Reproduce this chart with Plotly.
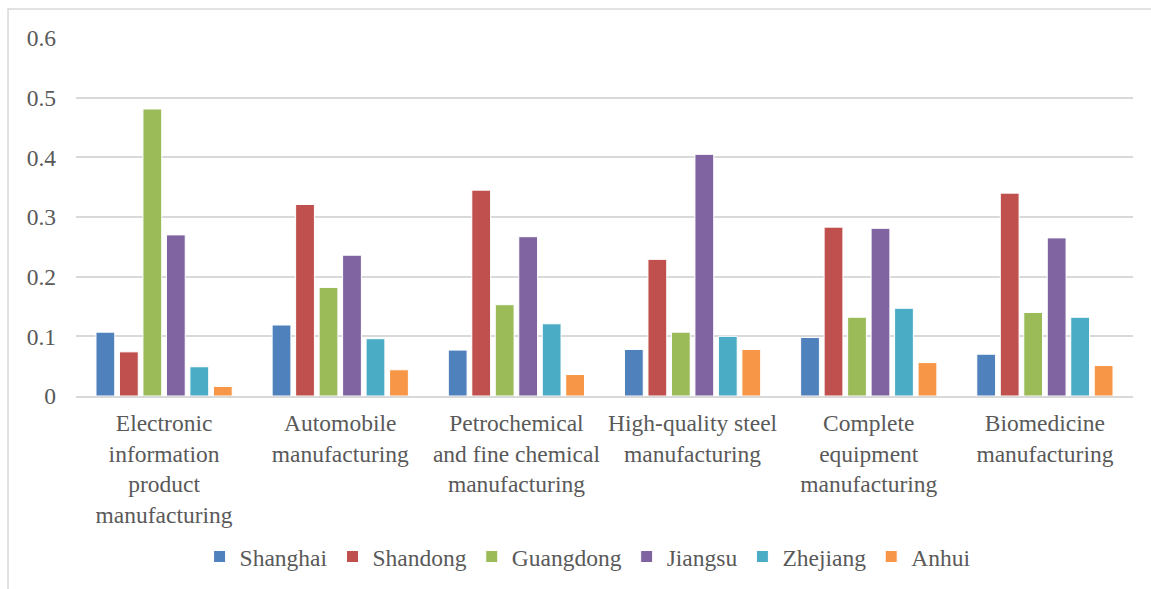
import plotly.graph_objects as go

categories = [
    "Electronic<br>information<br>product<br>manufacturing",
    "Automobile<br>manufacturing",
    "Petrochemical<br>and fine chemical<br>manufacturing",
    "High-quality steel<br>manufacturing",
    "Complete<br>equipment<br>manufacturing",
    "Biomedicine<br>manufacturing",
]

shanghai = [0.107, 0.119, 0.077, 0.078, 0.098, 0.070]
shandong = [0.074, 0.321, 0.345, 0.229, 0.283, 0.340]
guangdong = [0.481, 0.182, 0.153, 0.107, 0.132, 0.140]
jiangsu = [0.270, 0.236, 0.267, 0.405, 0.281, 0.265]
zhejiang = [0.049, 0.096, 0.121, 0.100, 0.147, 0.132]
anhui = [0.016, 0.044, 0.036, 0.078, 0.056, 0.051]

series_names = ["Shanghai", "Shandong", "Guangdong", "Jiangsu", "Zhejiang", "Anhui"]
series_values = [shanghai, shandong, guangdong, jiangsu, zhejiang, anhui]
series_colors = ["#4F81BD", "#C0504D", "#9BBB59", "#8064A2", "#4BACC6", "#F79646"]

y_ticks = [0, 0.1, 0.2, 0.3, 0.4, 0.5, 0.6]
y_tick_labels = ["0", "0.1", "0.2", "0.3", "0.4", "0.5", "0.6"]

FONT = "Liberation Serif"
FS = 23.5
TEXT = "#595959"
GRID = "#D9D9D9"

fig = go.Figure()
for name, vals, col in zip(series_names, series_values, series_colors):
    fig.add_trace(go.Bar(
        x=categories, y=vals, name=name,
        marker=dict(color=col, line=dict(color="white", width=1)),
    ))

fig.update_layout(
    width=1151, height=589,
    margin=dict(l=76, r=18, t=38, b=193, autoexpand=False),
    paper_bgcolor="white", plot_bgcolor="white",
    barmode="group", bargap=0.2, bargroupgap=0.2,
    font=dict(family=FONT, size=FS, color=TEXT),
    showlegend=True,
    legend=dict(
        orientation="h", x=0.484, y=-0.449, xanchor="center", yanchor="middle",
        font=dict(family=FONT, size=FS, color=TEXT),
        itemwidth=30, traceorder="normal",
    ),
    shapes=[dict(
        type="rect", xref="paper", yref="paper",
        x0=-0.0643, x1=1.03, y0=-0.6, y1=1.081,
        line=dict(color=GRID, width=1.5), fillcolor="rgba(0,0,0,0)", layer="below",
    )],
)

fig.update_xaxes(
    showgrid=False, showline=True, linecolor=GRID, linewidth=1.5,
    ticks="", tickfont=dict(family=FONT, size=FS, color=TEXT),
    ticklabelstandoff=5, tickangle=0,
)
fig.update_yaxes(
    range=[0, 0.6], tickvals=y_ticks, ticktext=y_tick_labels,
    showgrid=True, gridcolor=GRID, gridwidth=1.5,
    zeroline=False, showline=False, ticks="",
    tickfont=dict(family=FONT, size=FS, color=TEXT),
    ticklabelstandoff=19,
)

fig.write_html("out.html")
